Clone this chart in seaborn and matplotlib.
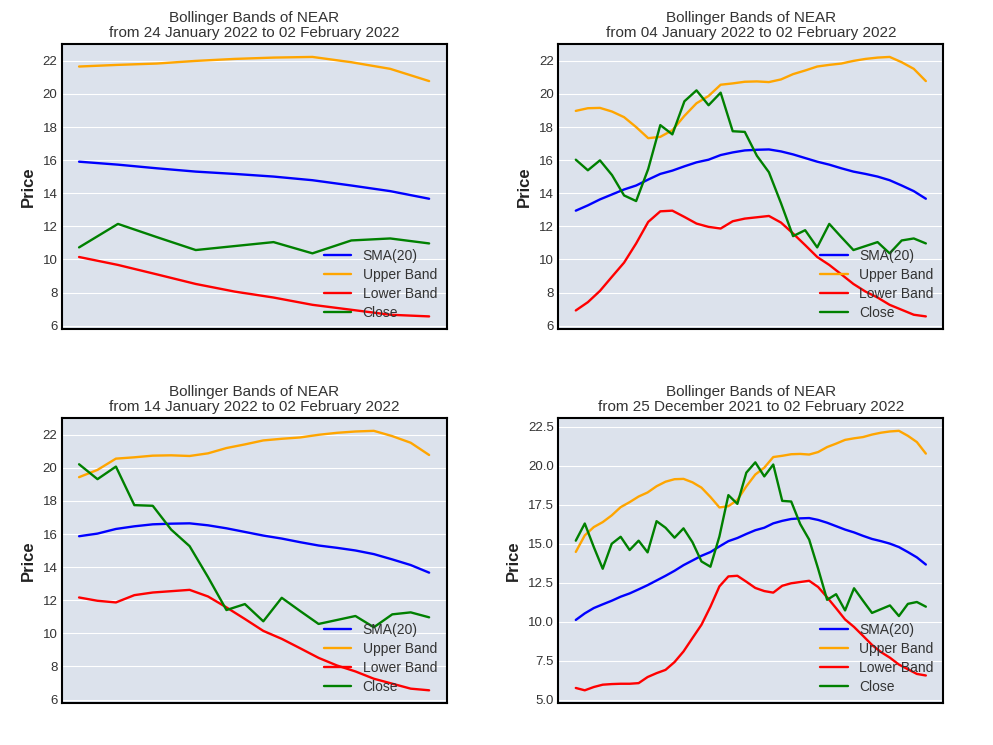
import pandas as pd
import matplotlib
matplotlib.use('Agg')
import matplotlib.pyplot as plt
import seaborn as sns

# NEAR daily values, 25 Dec 2021 - 02 Feb 2022
dates = pd.date_range('2021-12-25', '2022-02-02', freq='D')

close = [15.2, 16.3, 14.8, 13.4, 15.0, 15.45, 14.6, 15.2, 14.45, 16.45,
         16.03, 15.39, 15.99, 15.1, 13.87, 13.53, 15.47, 18.12, 17.56, 19.56,
         20.22, 19.32, 20.08, 17.75, 17.71, 16.27, 15.27, 13.4, 11.41, 11.77,
         10.73, 12.15, 11.35, 10.57, 10.81, 11.05, 10.37, 11.15, 11.27, 10.97]

sma20 = [10.12, 10.54, 10.88, 11.12, 11.35, 11.61, 11.82, 12.08, 12.35, 12.65,
         12.95, 13.27, 13.63, 13.93, 14.23, 14.47, 14.83, 15.17, 15.37, 15.63,
         15.87, 16.03, 16.31, 16.47, 16.59, 16.63, 16.65, 16.53, 16.35, 16.13,
         15.91, 15.73, 15.51, 15.31, 15.17, 15.01, 14.79, 14.47, 14.13, 13.67]

upper = [14.48, 15.54, 16.07, 16.39, 16.82, 17.35, 17.67, 18.03, 18.29, 18.69,
         18.98, 19.14, 19.16, 18.94, 18.6, 18.0, 17.33, 17.41, 17.81, 18.68,
         19.44, 19.88, 20.56, 20.64, 20.74, 20.76, 20.72, 20.88, 21.2, 21.42,
         21.66, 21.76, 21.84, 22.0, 22.12, 22.2, 22.24, 21.92, 21.52, 20.78]

lower = [5.76, 5.61, 5.82, 5.97, 6.01, 6.03, 6.03, 6.07, 6.46, 6.71,
         6.92, 7.42, 8.1, 8.96, 9.81, 10.97, 12.27, 12.91, 12.95, 12.57,
         12.17, 11.97, 11.87, 12.31, 12.47, 12.55, 12.63, 12.23, 11.57, 10.87,
         10.15, 9.67, 9.1, 8.52, 8.06, 7.7, 7.26, 6.96, 6.66, 6.56]

# number of last days shown in each panel
windows = [10, 30, 20, 40]

df = pd.DataFrame({'Date': dates, 'SMA(20)': sma20, 'Upper Band': upper,
                   'Lower Band': lower, 'Close': close})

series = [('SMA(20)', 'blue'), ('Upper Band', 'orange'),
          ('Lower Band', 'red'), ('Close', 'green')]

sns.set_style('darkgrid', {'axes.facecolor': '#dce2ec', 'grid.color': 'white'})
plt.rcParams['font.family'] = ['Liberation Sans', 'DejaVu Sans']

fig, axes = plt.subplots(2, 2, figsize=(9.93, 7.45), dpi=100)
fig.subplots_adjust(left=0.062, right=0.950, top=0.941, bottom=0.056,
                    wspace=0.29, hspace=0.31)

for ax, n in zip(axes.flat, windows):
    sub = df.tail(n)
    for col, color in series:
        sns.lineplot(data=sub, x='Date', y=col, color=color, label=col,
                     linewidth=1.7, ax=ax)
    start = sub['Date'].iloc[0].strftime('%d %B %Y')
    end = sub['Date'].iloc[-1].strftime('%d %B %Y')
    ax.set_title(f'Bollinger Bands of NEAR\nfrom {start} to {end}',
                 fontsize=11, color='#333333', pad=5, linespacing=1.05)
    ax.set_ylabel('Price', fontsize=12, fontweight='bold', color='#222222',
                  labelpad=5)
    ax.set_xlabel('')
    ax.set_xticks([])
    ax.grid(axis='x', visible=False)
    ax.tick_params(axis='y', length=0, labelsize=9.5, labelcolor='#333333',
                   pad=3)
    for sp in ax.spines.values():
        sp.set_visible(True)
        sp.set_color('black')
        sp.set_linewidth(1.5)
    ax.legend(loc='lower right', frameon=False, fontsize=10,
              labelcolor='#333333', handlelength=2.0, labelspacing=0.35,
              borderaxespad=0.3)

fig.savefig('out.png', dpi=100)
